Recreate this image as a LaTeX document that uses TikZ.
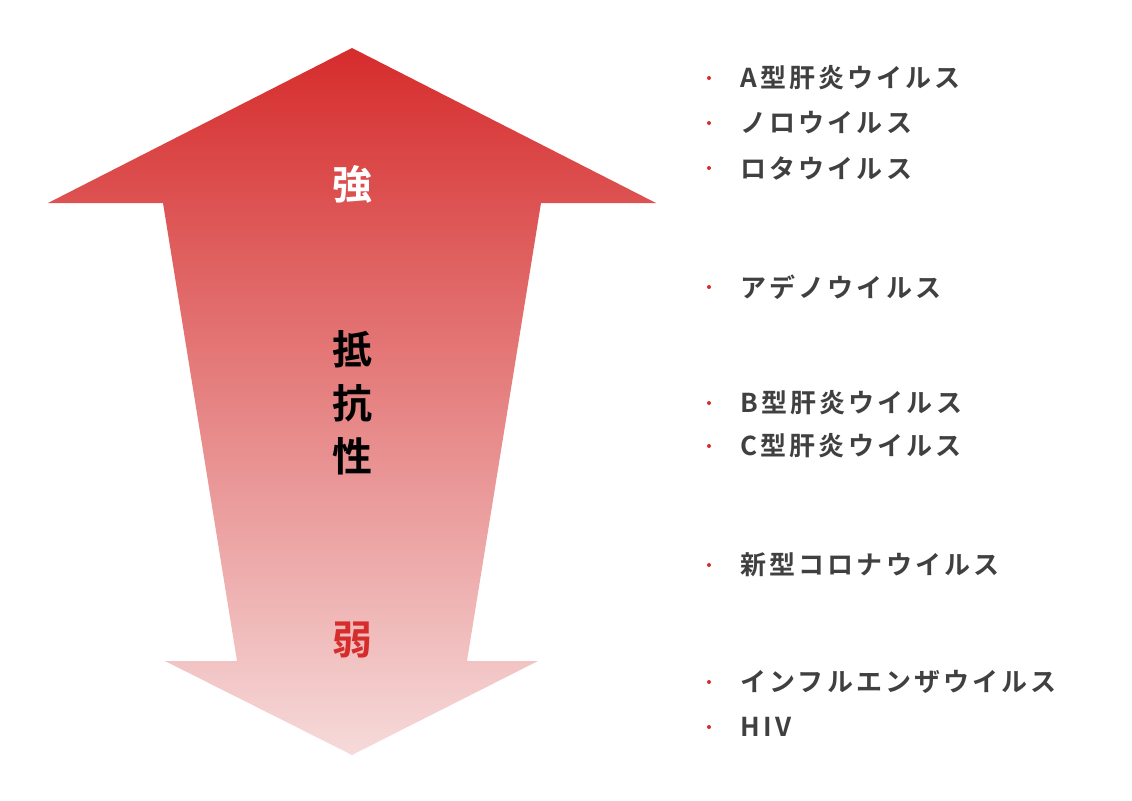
\documentclass[tikz,border=0pt]{standalone}
\usepackage{fontspec}
\newfontfamily\jpfont{Noto Sans CJK JP}[BoldFont={* Bold}]
\definecolor{topred}{RGB}{214,44,44}
\definecolor{lowred}{RGB}{246,218,218}
\definecolor{txtgray}{RGB}{64,64,64}
\definecolor{dotred}{RGB}{214,44,44}
\tikzset{every picture/.style={line width=0.75pt}}
\tikzset{
  bigchar/.style={inner sep=0pt,font=\jpfont\bfseries\fontsize{30}{34}\selectfont},
  listitem/.style={anchor=west,inner sep=0pt,text=txtgray,font=\jpfont\bfseries\fontsize{19.5}{22}\selectfont\addfontfeature{LetterSpace=12}},
  listdot/.style={circle,fill=dotred,inner sep=0pt,minimum size=3pt}
}

\begin{document}
\begin{tikzpicture}[x=0.75pt,y=0.75pt,yscale=-1,xscale=1]
\useasboundingbox (0,0) rectangle (1132,800);

%Double arrow
\shade [top color=topred,bottom color=lowred] (352,48) -- (656,203) -- (541,203) -- (467,661) -- (538,661) -- (352,755) -- (165,661) -- (237,661) -- (163,203) -- (48,203) -- cycle ;

% Text Node
\node [bigchar,text=white] (strong) at (352,184) {強};
% Text Node
\node [bigchar,text=black,align=center,font=\jpfont\bfseries\fontsize{30}{40}\selectfont] (resist) at (352,403) {抵\\抗\\性};
% Text Node
\node [bigchar,text=topred] (weak) at (352,640) {弱};

% List
\foreach \y/\t [count=\i] in {78/A型肝炎ウイルス,123/ノロウイルス,168/ロタウイルス,287/アデノウイルス,403/B型肝炎ウイルス,446/C型肝炎ウイルス,565/新型コロナウイルス,682/インフルエンザウイルス,727/HIV}{
  \node [listdot] (dot\i) at (709,\y) {};
  \node [listitem] (item\i) at (740,\y) {\t};
}

\end{tikzpicture}
\end{document}
